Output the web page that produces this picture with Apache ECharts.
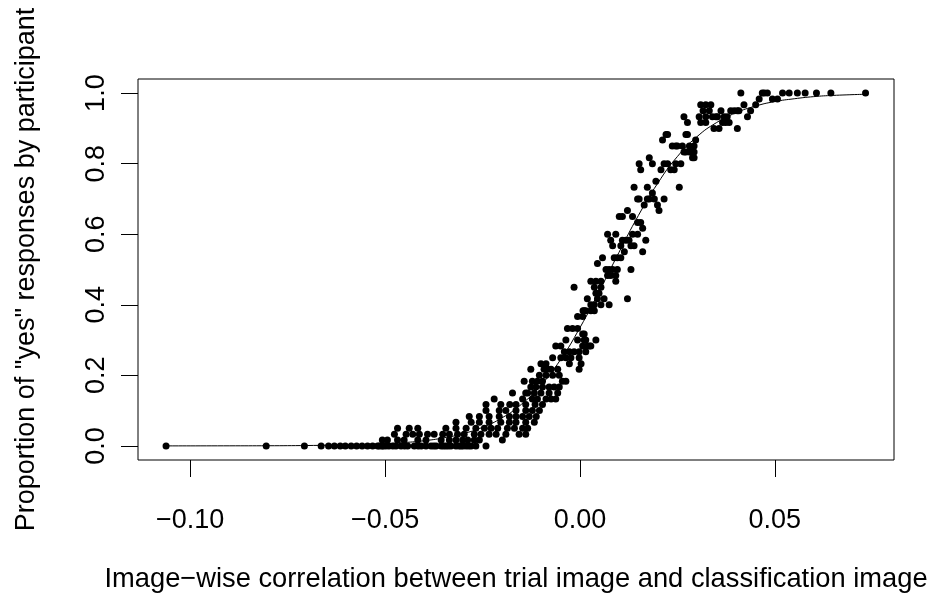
<!DOCTYPE html>
<html><head><meta charset="utf-8">
<script src="https://cdn.jsdelivr.net/npm/echarts@6/dist/echarts.min.js"></script>
<style>html,body{margin:0;padding:0;background:#fff}#c{width:935px;height:593px}</style>
</head><body><div id="c"></div>
<script>
// ---- tick values / labels ----
const xTickValues = [-0.10, -0.05, 0.00, 0.05];
const xTickLabels = ['\u22120.10', '\u22120.05', '0.00', '0.05'];
const yTickValues = [0, 0.2, 0.4, 0.6, 0.8, 1.0];
const yTickLabels = ['0.0', '0.2', '0.4', '0.6', '0.8', '1.0'];
const xTitle = 'Image\u2212wise correlation between trial image and classification image';
const yTitle = 'Proportion of "yes" responses by participant';

// ---- observed points (x = correlation, y = proportion yes) ----
const lowerTail = [
  [-0.1062,0],[-0.0805,0],[-0.0707,0],[-0.0664,0],[-0.0645,0],[-0.0630,0],[-0.0615,0],[-0.0602,0],
  [-0.0587,0],[-0.0573,0],[-0.0559,0],[-0.0545,0],[-0.0532,0],[-0.0519,0],[-0.0508,0]
];
const lowBand = [
  [-0.0515,0],[-0.0505,0],[-0.0498,0],[-0.0490,0],[-0.0480,0],[-0.0472,0],[-0.0459,0],[-0.0450,0],
  [-0.0442,0],[-0.0425,0],[-0.0415,0],[-0.0407,0],[-0.0395,0],[-0.0382,0],[-0.0375,0],[-0.0369,0],
  [-0.0356,0],[-0.0350,0],[-0.0344,0],[-0.0338,0],[-0.0331,0],[-0.0318,0],[-0.0310,0],[-0.0305,0],
  [-0.0300,0],[-0.0292,0],[-0.0285,0],[-0.0279,0],[-0.0267,0],[-0.0241,0],
  [-0.0507,0.017],[-0.0494,0.017],[-0.0468,0.017],[-0.0451,0.017],[-0.0416,0.017],[-0.0395,0.017],
  [-0.0356,0.017],[-0.0335,0.017],[-0.0318,0.017],[-0.0301,0.017],[-0.0288,0.017],[-0.0271,0.017],[-0.0258,0.017],
  [-0.0476,0.033],[-0.0446,0.033],[-0.0429,0.033],[-0.0412,0.033],[-0.0391,0.033],[-0.0374,0.033],
  [-0.0352,0.033],[-0.0335,0.033],[-0.0314,0.033],[-0.0297,0.033],[-0.0271,0.033],[-0.0254,0.033],[-0.0233,0.033],
  [-0.0468,0.05],[-0.0438,0.05],[-0.0416,0.05],[-0.0344,0.05],[-0.0318,0.05],[-0.0292,0.05],
  [-0.0267,0.05],[-0.0245,0.05],[-0.0228,0.05],
  [-0.0318,0.067],[-0.0279,0.067],[-0.0258,0.067],[-0.0233,0.067],
  [-0.0284,0.083],[-0.0258,0.083],[-0.0233,0.083],
  [-0.0241,0.1],[-0.0241,0.117],[-0.0220,0.133]
];
const rampLow = [
  [-0.0199,0.017],
  [-0.0215,0.033],[-0.0190,0.033],[-0.0156,0.033],[-0.0139,0.033],
  [-0.0211,0.05],[-0.0186,0.05],[-0.0168,0.05],[-0.0147,0.05],[-0.0134,0.05],
  [-0.0203,0.067],[-0.0181,0.067],[-0.0164,0.067],[-0.0139,0.067],[-0.0117,0.067],
  [-0.0207,0.083],[-0.0181,0.083],[-0.0164,0.083],[-0.0147,0.083],[-0.0130,0.083],[-0.0112,0.083],
  [-0.0207,0.1],[-0.0190,0.1],[-0.0164,0.1],[-0.0139,0.1],[-0.0122,0.1],[-0.0104,0.1],
  [-0.0203,0.117],[-0.0180,0.117],[-0.0164,0.117],[-0.0139,0.117],[-0.0115,0.117],[-0.0096,0.117],
  [-0.0147,0.133],[-0.0122,0.133],[-0.0109,0.133],[-0.0087,0.133],[-0.0074,0.133],[-0.0062,0.133],
  [-0.0173,0.15],[-0.0139,0.15],[-0.0134,0.15],[-0.0117,0.15],[-0.0100,0.15],[-0.0079,0.15],[-0.0057,0.15],
  [-0.0126,0.167],[-0.0113,0.167],[-0.0096,0.167],[-0.0079,0.167],[-0.0066,0.167],[-0.0053,0.167],
  [-0.0143,0.183],[-0.0122,0.183],[-0.0109,0.183],[-0.0096,0.183],[-0.0045,0.183],[-0.0036,0.183],
  [-0.0104,0.2],[-0.0087,0.2],[-0.0070,0.2],[-0.0053,0.2],
  [-0.0126,0.217],[-0.0092,0.217],[-0.0083,0.217],[-0.0074,0.217],[-0.0057,0.217],[-0.0002,0.217],
  [-0.0100,0.233],[-0.0087,0.233],[-0.0027,0.233],[0.0003,0.233],
  [-0.0070,0.25],[-0.0049,0.25],[-0.0036,0.25],[-0.0023,0.25],[-0.0002,0.25],
  [-0.0040,0.267],[-0.0027,0.267],[-0.0015,0.267],[-0.0002,0.267],[0.0015,0.267],
  [-0.0062,0.283],[-0.0049,0.283],[0.0007,0.283],[0.0019,0.283],[0.0024,0.283],[0.0028,0.283]
];
const rampMid = [
  [-0.0036,0.3],[-0.0006,0.3],[0.0011,0.3],[0.0015,0.3],[0.0041,0.3],
  [0.0007,0.317],[0.0011,0.317],
  [-0.0032,0.333],[-0.0019,0.333],[-0.0006,0.333],
  [-0.0006,0.367],[0.0007,0.367],
  [0.0008,0.383],[0.0011,0.383],[0.0015,0.383],[0.0028,0.383],[0.0037,0.383],
  [0.0028,0.4],[0.0037,0.4],[0.0054,0.4],[0.0075,0.4],
  [0.0019,0.417],[0.0045,0.417],[0.0062,0.417],[0.0122,0.417],
  [0.0041,0.433],[0.0049,0.433],
  [-0.0015,0.45],[0.0037,0.45],[0.0054,0.45],
  [0.0028,0.467],[0.0041,0.467],[0.0054,0.467],[0.0092,0.467],
  [0.0071,0.483],[0.0079,0.483],[0.0092,0.483],
  [0.0067,0.5],[0.0075,0.5],[0.0084,0.5],[0.0096,0.5],[0.0131,0.5],
  [0.0045,0.517],
  [0.0058,0.533],[0.0088,0.533],[0.0096,0.533],[0.0105,0.533],
  [0.0114,0.55],[0.0161,0.55],
  [0.0084,0.567],[0.0105,0.567],[0.0131,0.567],[0.0139,0.567],
  [0.0079,0.583],[0.0109,0.583],[0.0118,0.583],[0.0126,0.583],[0.0169,0.583],
  [0.0071,0.6],[0.0092,0.6],[0.0135,0.6],[0.0148,0.6],
  [0.0161,0.617],
  [0.0148,0.633],[0.0156,0.633],
  [0.0101,0.65],[0.0109,0.65],[0.0135,0.65],
  [0.0122,0.667],[0.0203,0.667],
  [0.0165,0.683],[0.0199,0.683],
  [0.0148,0.7],[0.0152,0.7],[0.0173,0.7],[0.0178,0.7],[0.0191,0.7],[0.0216,0.7]
];
const rampHigh = [
  [0.0186,0.717],
  [0.0139,0.733],[0.0173,0.733],[0.0255,0.733],
  [0.0195,0.75],
  [0.0156,0.783],[0.0208,0.783],[0.0233,0.783],[0.0242,0.783],
  [0.0152,0.8],[0.0186,0.8],[0.0216,0.8],[0.0225,0.8],[0.0246,0.8],[0.0259,0.8],
  [0.0178,0.817],[0.0289,0.817],[0.0293,0.817],
  [0.0267,0.833],[0.0272,0.833],[0.0281,0.833],[0.0285,0.833],[0.0293,0.833],
  [0.0237,0.85],[0.0246,0.85],[0.0250,0.85],[0.0263,0.85],[0.0281,0.85],[0.0293,0.85],
  [0.0212,0.867],[0.0297,0.867],
  [0.0221,0.883],[0.0225,0.883],[0.0272,0.883],[0.0276,0.883],
  [0.0344,0.9],[0.0357,0.9],[0.0404,0.9],
  [0.0276,0.917],[0.0310,0.917],[0.0323,0.917],[0.0366,0.917],[0.0374,0.917],[0.0383,0.917],
  [0.0267,0.933],[0.0306,0.933],[0.0323,0.933],[0.0340,0.933],[0.0349,0.933],[0.0353,0.933],
  [0.0370,0.933],[0.0378,0.933],[0.0430,0.933]
];
const upperTail = [
  [0.0316,0.95],[0.0332,0.95],[0.0362,0.95],[0.0387,0.95],[0.0396,0.95],[0.0404,0.95],[0.0408,0.95],[0.0438,0.95],
  [0.0310,0.967],[0.0323,0.967],[0.0336,0.967],[0.0421,0.967],[0.0451,0.967],
  [0.0460,0.983],[0.0494,0.983],[0.0507,0.983],
  [0.0413,1],[0.0468,1],[0.0473,1],[0.0481,1],[0.0520,1],[0.0537,1],[0.0558,1],[0.0578,1],
  [0.0607,1],[0.0644,1],[0.0733,1]
];

// ---- fitted curve ----
const curveX = [-0.106,-0.09,-0.08,-0.07,-0.06,-0.055,-0.05,-0.045,-0.04,-0.035,-0.03,-0.025,-0.02,-0.015,
  -0.01,-0.005,0,0.005,0.01,0.015,0.02,0.025,0.03,0.035,0.04,0.045,0.05,0.055,0.06,0.065,0.074];
const curveY = [0.0000,0.0002,0.0004,0.0011,0.0026,0.0040,0.0061,0.0095,0.0146,0.0226,0.0346,0.0527,0.0795,0.118,
  0.172,0.244,0.335,0.439,0.548,0.653,0.745,0.820,0.876,0.916,0.944,0.963,0.976,0.984,0.990,0.9935,0.997];

const points = [].concat(lowerTail, lowBand, rampLow, rampMid, rampHigh, upperTail);
const curve = curveX.map((x, i) => [x, curveY[i]]);

const FONT = '"Liberation Sans", Arial, Helvetica, sans-serif';
const FS = 27;
function lab(values, labels) {
  return v => { for (let i = 0; i < values.length; i++) if (Math.abs(values[i] - v) < 1e-9) return labels[i]; return ''; };
}

const chart = echarts.init(document.getElementById('c'), null, {renderer: 'canvas'});
chart.setOption({
  animation: false,
  backgroundColor: '#fff',
  grid: {left: 138, top: 79, width: 756, height: 381, containLabel: false, outerBoundsMode: 'none',
         show: true, borderColor: '#000', borderWidth: 1, backgroundColor: 'transparent'},
  xAxis: {
    type: 'value', min: -0.1134, max: 0.0806,
    axisLine: {show: false, onZero: false}, splitLine: {show: false},
    axisTick: {show: true, inside: false, customValues: xTickValues, length: 17, lineStyle: {color: '#000', width: 1}},
    axisLabel: {customValues: xTickValues, formatter: lab(xTickValues, xTickLabels), fontSize: FS, fontFamily: FONT, color: '#000', margin: 47},
    name: xTitle, nameLocation: 'middle', nameGap: 106,
    nameTextStyle: {fontSize: 27.3, fontFamily: FONT, color: '#000'}
  },
  yAxis: {
    type: 'value', min: -0.04, max: 1.04,
    axisLine: {show: false, onZero: false}, splitLine: {show: false},
    axisTick: {show: true, inside: false, customValues: yTickValues, length: 17, lineStyle: {color: '#000', width: 1}},
    axisLabel: {customValues: yTickValues, formatter: lab(yTickValues, yTickLabels), rotate: 90, fontSize: FS, fontFamily: FONT, color: '#000', margin: 28},
    name: yTitle, nameLocation: 'middle', nameGap: 98,
    nameTextStyle: {fontSize: FS, fontFamily: FONT, color: '#000'}
  },
  series: [
    {type: 'line', data: curve, smooth: true, showSymbol: false, symbol: 'none', lineStyle: {color: '#000', width: 1}, z: 2, silent: true},
    {type: 'scatter', data: points, symbol: 'circle', symbolSize: 7, itemStyle: {color: '#000', opacity: 1}, z: 3, silent: true}
  ]
});
</script></body></html>
